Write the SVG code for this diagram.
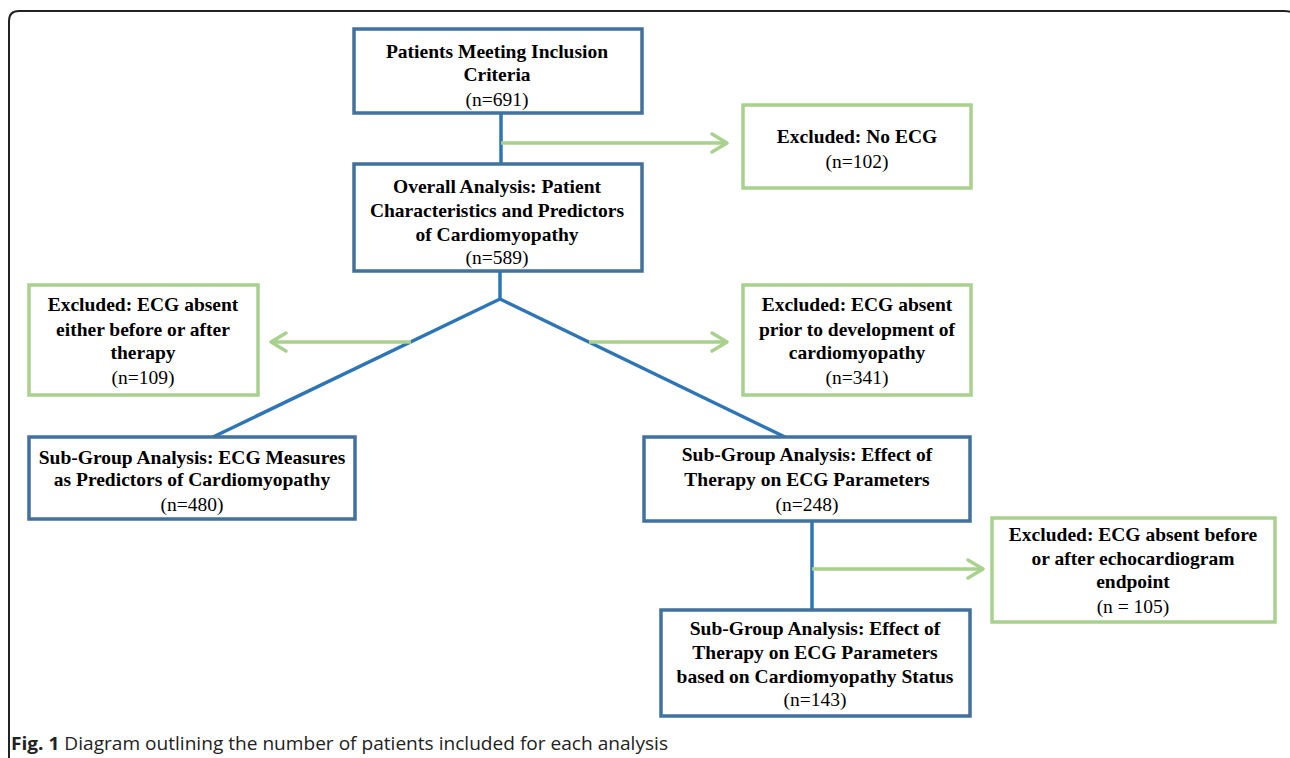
<svg xmlns="http://www.w3.org/2000/svg" width="1290" height="758" viewBox="0 0 1290 758">
<defs>
<style>
.box{fill:#fff;stroke:#41719C;stroke-width:3.5}
.exc{fill:#fff;stroke:#A9D18E;stroke-width:3.5}
.t{font-family:"Liberation Serif","Times New Roman",serif;font-size:19.5px;text-anchor:middle;fill:#000}
.b{font-weight:bold}
.conn{fill:none;stroke:#2E75B6;stroke-width:3.5}
.garr{fill:none;stroke:#A9D18E;stroke-width:3.5}
.cap{font-family:"Open Sans","Liberation Sans",sans-serif;font-size:18px;fill:#222}
</style>
<marker id="ah" markerUnits="userSpaceOnUse" markerWidth="24" markerHeight="24" viewBox="-20 -12 24 24" refX="0" refY="0" orient="auto">
<path d="M-15,-9 L0,0 L-15,9" fill="none" stroke="#A9D18E" stroke-width="3.5" stroke-linecap="round" stroke-linejoin="round"/>
</marker>
</defs>
<rect width="1290" height="758" fill="#fff"/>
<path d="M9,758 L9,21 Q9,11 19,11 L1284,11 Q1290,11 1292,13" fill="none" stroke="#222" stroke-width="2"/>
<g id="connectors">
<path class="conn" d="M501,113 L501,165"/>
<path class="conn" d="M500,271 L500,299 L213,437"/>
<path class="conn" d="M500,299 L785,437"/>
<path class="conn" d="M812,521 L812,610"/>
<path class="garr" d="M501,143 L727,143" marker-end="url(#ah)"/>
<path class="garr" d="M411,342 L271,342" marker-end="url(#ah)"/>
<path class="garr" d="M589,342 L727,342" marker-end="url(#ah)"/>
<path class="garr" d="M812,569 L983,569" marker-end="url(#ah)"/>
</g>
<g id="n_inclusion">
<rect class="box" x="354" y="29" width="288" height="84"/>
<text class="t b" x="497" y="58">Patients Meeting Inclusion</text>
<text class="t b" x="497" y="81">Criteria</text>
<text class="t" x="497" y="106">(n=691)</text>
</g>
<g id="n_noecg">
<rect class="exc" x="743" y="105" width="228" height="83"/>
<text class="t b" x="857" y="143">Excluded: No ECG</text>
<text class="t" x="857" y="168">(n=102)</text>
</g>
<g id="n_overall">
<rect class="box" x="354" y="164" width="288" height="107"/>
<text class="t b" x="497" y="193">Overall Analysis: Patient</text>
<text class="t b" x="497" y="217">Characteristics and Predictors</text>
<text class="t b" x="497" y="241">of Cardiomyopathy</text>
<text class="t" x="497" y="264">(n=589)</text>
</g>
<g id="n_exc_left">
<rect class="exc" x="29" y="285" width="229" height="110"/>
<text class="t b" x="143" y="311">Excluded: ECG absent</text>
<text class="t b" x="143" y="336">either before or after</text>
<text class="t b" x="143" y="359">therapy</text>
<text class="t" x="143" y="384">(n=109)</text>
</g>
<g id="n_exc_right">
<rect class="exc" x="743" y="285" width="228" height="110"/>
<text class="t b" x="857" y="311">Excluded: ECG absent</text>
<text class="t b" x="857" y="336">prior to development of</text>
<text class="t b" x="857" y="359">cardiomyopathy</text>
<text class="t" x="857" y="384">(n=341)</text>
</g>
<g id="n_sub_left">
<rect class="box" x="29" y="437" width="326" height="82"/>
<text class="t b" x="192" y="464">Sub-Group Analysis: ECG Measures</text>
<text class="t b" x="192" y="486">as Predictors of Cardiomyopathy</text>
<text class="t" x="192" y="511">(n=480)</text>
</g>
<g id="n_sub_right">
<rect class="box" x="644" y="437" width="326" height="84"/>
<text class="t b" x="807" y="461">Sub-Group Analysis: Effect of</text>
<text class="t b" x="807" y="486">Therapy on ECG Parameters</text>
<text class="t" x="807" y="511">(n=248)</text>
</g>
<g id="n_exc_bottom">
<rect class="exc" x="992" y="518" width="283" height="104"/>
<text class="t b" x="1133" y="541">Excluded: ECG absent before</text>
<text class="t b" x="1133" y="565">or after echocardiogram</text>
<text class="t b" x="1133" y="588">endpoint</text>
<text class="t" x="1133" y="613">(n = 105)</text>
</g>
<g id="n_sub_bottom">
<rect class="box" x="661" y="610" width="309" height="106"/>
<text class="t b" x="815" y="635">Sub-Group Analysis: Effect of</text>
<text class="t b" x="815" y="659">Therapy on ECG Parameters</text>
<text class="t b" x="815" y="683">based on Cardiomyopathy Status</text>
<text class="t" x="815" y="706">(n=143)</text>
</g>
<text class="cap" x="11" y="750" textLength="657" lengthAdjust="spacingAndGlyphs"><tspan font-weight="bold">Fig. 1</tspan> Diagram outlining the number of patients included for each analysis</text>
</svg>
